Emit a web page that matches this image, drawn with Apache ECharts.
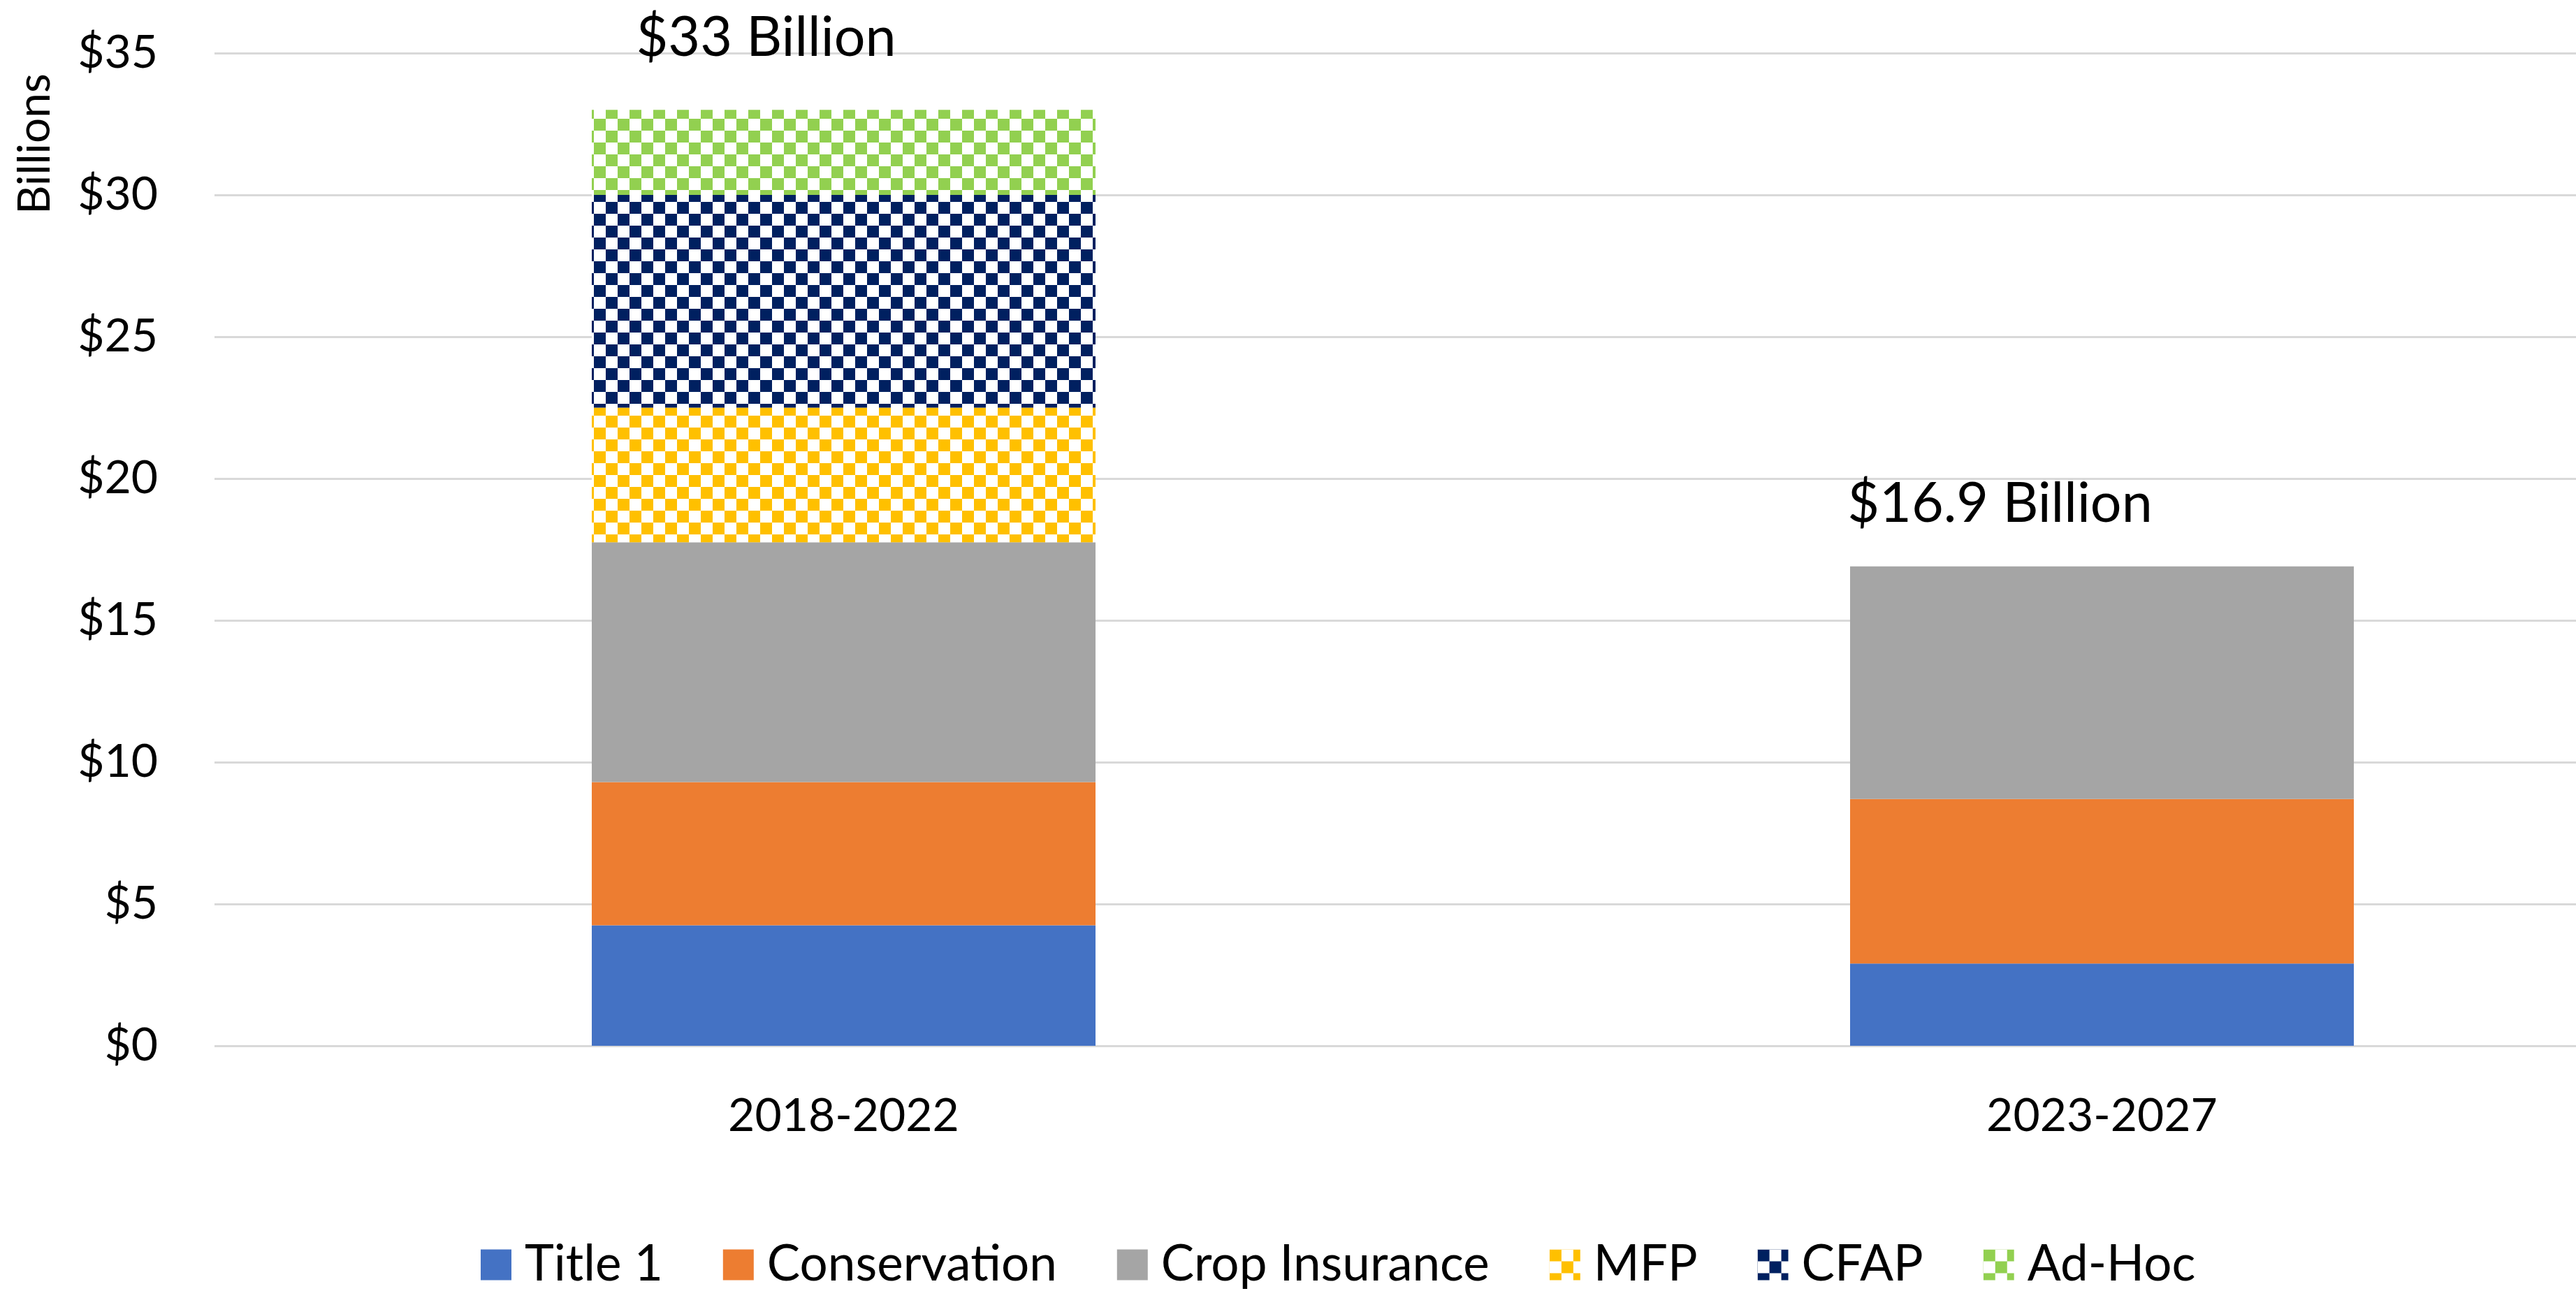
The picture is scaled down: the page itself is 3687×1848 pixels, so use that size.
<!DOCTYPE html>
<html>
<head>
<meta charset="utf-8">
<title>Farm spending</title>
<script src="https://cdn.jsdelivr.net/npm/echarts@6/dist/echarts.min.js"></script>
<style>
html, body { margin: 0; padding: 0; background: #fff; overflow: hidden; }
/* the plot runs past the right edge in the original, so the chart is wider than the window */
#chart { width: 3950px; height: 1848px; }
</style>
</head>
<body>
<div id="chart"></div>
<script>
// values in billions
var categories = ['2018-2022', '2023-2027'];
var title1 = [4.25, 2.9];
var conservation = [5.05, 5.8];
var cropInsurance = [8.45, 8.2];
var mfp = [4.75, '-'];
var cfap = [7.5, '-'];
var adHoc = [3.0, '-'];
var totalLabels = ['$33 Billion', '$16.9 Billion'];
var yTicks = { min: 0, max: 35, step: 5 };

var FONT = 'Lato';

// checkerboard fill like the excel pattern
function checker(color) {
  var c = document.createElement('canvas');
  c.width = 34;
  c.height = 34;
  var ctx = c.getContext('2d');
  ctx.fillStyle = '#ffffff';
  ctx.fillRect(0, 0, 34, 34);
  ctx.fillStyle = color;
  ctx.fillRect(0, 0, 17, 17);
  ctx.fillRect(17, 17, 17, 17);
  return { image: c, repeat: 'repeat' };
}

function totalLabel(text, dx, dy) {
  return {
    show: true,
    position: 'top',
    formatter: text,
    offset: [dx, dy],
    fontFamily: FONT,
    fontSize: 79,
    color: '#000'
  };
}

function makeSeries(name, values, color, labelIdx, dx, dy) {
  var data = values.map(function (v, i) {
    if (i === labelIdx) {
      return { value: v, label: totalLabel(totalLabels[i], dx, dy) };
    }
    return v;
  });
  return {
    name: name,
    type: 'bar',
    stack: 'total',
    barWidth: 721,
    animation: false,
    itemStyle: { color: color },
    data: data
  };
}

var chart = echarts.init(document.getElementById('chart'), null, { renderer: 'canvas' });

chart.setOption({
  backgroundColor: '#ffffff',
  textStyle: { fontFamily: FONT },
  grid: {
    left: 307,
    right: 41,
    top: 76,
    height: 1421,
    containLabel: false
  },
  legend: {
    left: 683,
    top: 1770,
    itemWidth: 44,
    itemHeight: 44,
    itemGap: 86,
    icon: 'rect',
    textStyle: {
      fontFamily: FONT,
      fontSize: 71,
      color: '#000',
      padding: [0, 0, 0, 14]
    },
    data: ['Title 1', 'Conservation', 'Crop Insurance', 'MFP', 'CFAP', 'Ad-Hoc']
  },
  xAxis: {
    type: 'category',
    data: categories,
    axisLine: { show: false },
    axisTick: { show: false },
    axisLabel: {
      margin: 68,
      fontFamily: FONT,
      fontSize: 66,
      color: '#000'
    }
  },
  yAxis: {
    type: 'value',
    min: yTicks.min,
    max: yTicks.max,
    interval: yTicks.step,
    axisLine: { show: false },
    axisTick: { show: false },
    axisLabel: {
      margin: 81,
      fontFamily: FONT,
      fontSize: 66,
      color: '#000',
      formatter: function (v) { return '$' + v; }
    },
    splitLine: {
      lineStyle: { color: '#d9d9d9', width: 3 }
    }
  },
  graphic: [{
    type: 'text',
    x: 50,
    y: 206,
    rotation: Math.PI / 2,
    style: {
      text: 'Billions',
      font: '64px Lato',
      fill: '#000',
      align: 'center',
      verticalAlign: 'middle'
    }
  }],
  series: [
    makeSeries('Title 1', title1, '#4472C4', -1),
    makeSeries('Conservation', conservation, '#ED7D31', -1),
    makeSeries('Crop Insurance', cropInsurance, '#A5A5A5', 1, -146, -45),
    makeSeries('MFP', mfp, checker('#FFC000'), -1),
    makeSeries('CFAP', cfap, checker('#002060'), -1),
    makeSeries('Ad-Hoc', adHoc, checker('#92D050'), 0, -111, -58)
  ]
});
</script>
</body>
</html>
